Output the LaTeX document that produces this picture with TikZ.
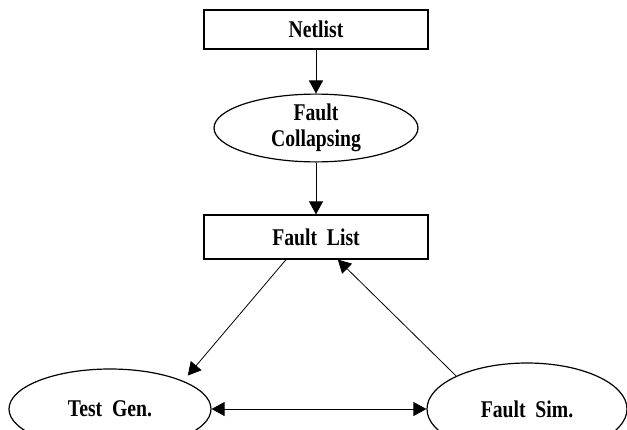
\documentclass[tikz,border=0pt]{standalone}
\usepackage{fontspec}
\setmainfont{Liberation Serif}[FakeStretch=0.82]
\usetikzlibrary{arrows.meta}
\usetikzlibrary{shapes.geometric}

\begin{document}
\begin{tikzpicture}[
		x=0.5pt,
		y=-0.5pt,
		thin,
		>={Triangle[width=7pt,length=6.5pt]},
		font=\fontsize{12}{13}\selectfont\bfseries,
		listbox/.style={draw, semithick, rectangle, minimum width=112pt, inner sep=0pt},
		procoval/.style={draw, semithick, ellipse, inner sep=0pt},
	]
		\useasboundingbox (0,0) rectangle (627,429);

		% lists
		\node[listbox, minimum height=19.5pt] (netlist) at (316, 29.5) {Netlist};
		\node[listbox, minimum height=22pt] (faultlist) at (316, 237) {Fault\ \ List};

		% procedures
		\node[procoval, minimum width=102pt, minimum height=32pt, align=center] (collapse) at (316, 128) {Fault\\Collapsing};
		\node[procoval, minimum width=101pt, minimum height=40pt] (testgen) at (110, 409) {Test\ \ Gen.};
		\node[procoval, minimum width=100pt, minimum height=46pt] (faultsim) at (527, 409) {Fault\ \ Sim.};

		% flow
		\path [->] (netlist) edge (collapse);
		\path [->] (collapse) edge (faultlist);
		\path [->] (faultlist.217) edge[shorten >=3.5pt] (testgen.21);
		\path [->] (faultsim.155) edge (faultlist.314);
		\path [<->] (testgen) edge (faultsim);
	\end{tikzpicture}
\end{document}
